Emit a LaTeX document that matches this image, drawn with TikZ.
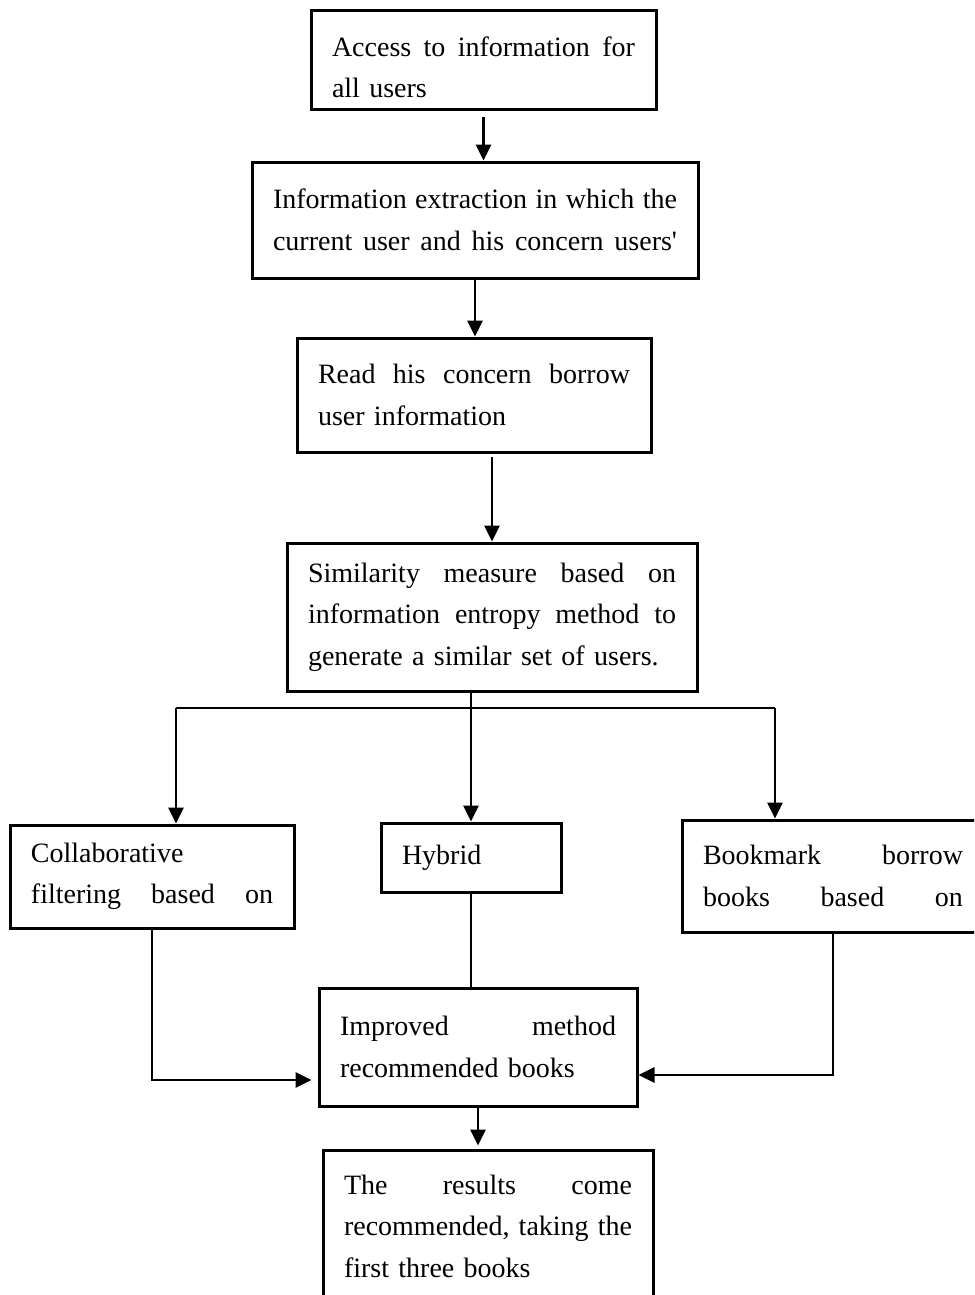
\documentclass[tikz,border=0pt]{standalone}
\usepackage{fontspec}
\setmainfont{Liberation Serif}
\usetikzlibrary{arrows.meta}
\tikzset{%
  box/.style={rectangle, draw=black, line width=1.5pt, inner xsep=10.5pt, inner ysep=0pt,
    align=left, font=\fontsize{14pt}{20.75pt}\selectfont},
  line/.style={draw=black, line width=1.4pt},
  arr/.style={line, -{Triangle[length=8pt,width=7.5pt]}},
}

\begin{document}
\begin{tikzpicture}[x=0.5pt, y=-0.5pt]
  \useasboundingbox (0,0) rectangle (974,1295);
  \clip (0,0) rectangle (974,1295);
  % main chain
  \node[box, minimum width=172.5pt, minimum height=49.5pt, text width=151.5pt] (access) at (483.5,60.5)
    {\rule{0pt}{16.5pt}Access\hfill to\hfill information\hfill for\\ all users};
  \node[box, minimum width=223pt, minimum height=58pt, text width=202pt] (extract) at (475,220)
    {Information\hfill extraction\hfill in\hfill which\hfill the\\ current\hfill user\hfill and\hfill his\hfill concern\hfill users\textquotesingle};
  \node[box, minimum width=177pt, minimum height=57pt, text width=156pt] (read) at (474,395)
    {Read\hfill his\hfill concern\hfill borrow\\ user information};
  \node[box, minimum width=205pt, minimum height=74pt, text width=184pt] (similar) at (492,617)
    {Similarity\hfill measure\hfill based\hfill on\\ information\hfill entropy\hfill method\hfill to\\ generate a similar set of users.};
  % three methods
  \node[box, minimum width=142pt, minimum height=51.5pt, text width=121pt] (collab) at (152,876.5)
    {Collaborative\\ filtering\hfill based\hfill on};
  \node[box, minimum width=90pt, minimum height=34.5pt, text width=69pt] (hybrid) at (471,857.5)
    {Hybrid};
  \node[box, minimum width=151pt, minimum height=56pt, text width=130pt] (bookmark) at (833,876)
    {Bookmark\hfill borrow\\ books\hfill based\hfill on};
  % result
  \node[box, minimum width=159pt, minimum height=59pt, text width=138pt] (improved) at (478,1047)
    {Improved\hfill method\\ recommended books};
  \node[box, minimum width=165pt, minimum height=76pt, text width=144pt] (results) at (488,1226)
    {The\hfill results\hfill come\\ recommended,\hfill taking\hfill the\\ first three books};
  % split points
  \coordinate (lsplit) at (176,708);
  \coordinate (rsplit) at (775,708);
  % connectors
  \draw[arr] ([yshift=-3pt]access.south) -- (access.south |- extract.north);
  \draw[arr] (extract.south) -- (extract.south |- read.north);
  \draw[arr] ([yshift=-1.5pt]similar.north |- read.south) -- (similar.north);
  \draw[arr] (hybrid.north |- similar.south) -- (hybrid.north);
  \draw[line] (lsplit) -- (rsplit);
  \draw[arr] (lsplit) -- (lsplit |- collab.north);
  \draw[arr] (rsplit) -- (rsplit |- bookmark.north);
  \draw[line] (hybrid.south) -- (hybrid.south |- improved.north);
  \draw[arr, shorten >=3pt] (collab.south) |- ([yshift=-16.5pt]improved.west);
  \draw[arr] (bookmark.south) |- ([yshift=-14pt]improved.east);
  \draw[arr, shorten >=1.5pt] (improved.south) -- (improved.south |- results.north);
\end{tikzpicture}
\end{document}
